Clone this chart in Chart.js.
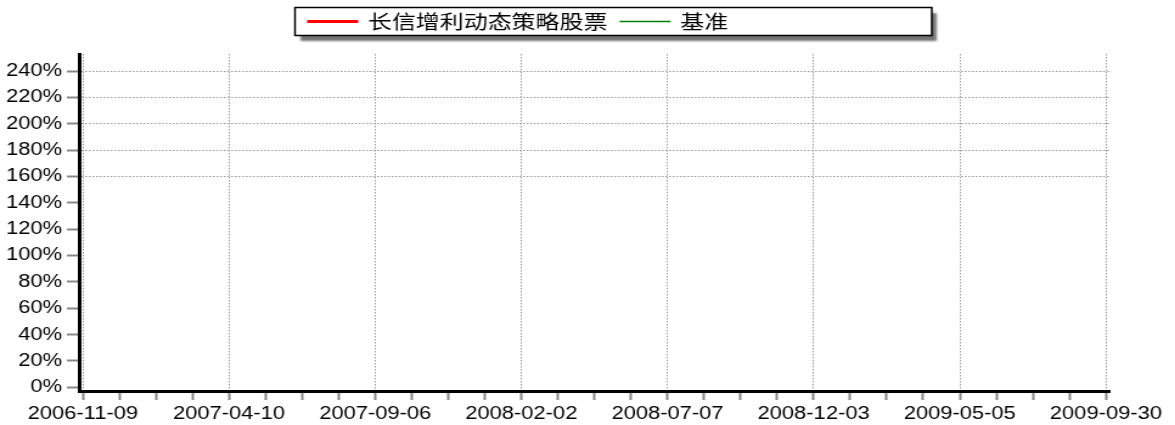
<!DOCTYPE html>
<html>
<head>
<meta charset="utf-8">
<script src="https://cdn.jsdelivr.net/npm/chart.js@4.4.1/dist/chart.umd.min.js"></script>
<style>
  html, body { margin: 0; padding: 0; background: #fff; overflow: hidden; }
  #wrap { width: 1175px; height: 425px; }
  /* the source image is stretched sideways, so draw narrow and scale */
  #chart { transform: scaleX(1.2164); transform-origin: 0 0; }
</style>
</head>
<body>
<div id="wrap"><canvas id="chart" width="966" height="425"></canvas></div>
<script>
// tick labels along the bottom, one every 100 trading days
const dateLabels = ['2006-11-09', '2007-04-10', '2007-09-06', '2008-02-02',
                    '2008-07-07', '2008-12-03', '2009-05-05', '2009-09-30'];
const seriesNames = ['长信增利动态策略股票', '基准'];
// no points are plotted in the picture
const fundValues = [];
const benchValues = [];
const yTicks = [0, 20, 40, 60, 80, 100, 120, 140, 160, 180, 200, 220, 240];
const xTicks = [0, 25, 50, 75, 100, 125, 150, 175, 200, 225, 250, 275, 300, 325,
                350, 375, 400, 425, 450, 475, 500, 525, 550, 575, 600, 625, 650, 675, 700];

const legendBox = {
  id: 'legendBox',
  afterDraw(chart) {
    const ctx = chart.ctx;
    const x = 242.5, y = 7.5, w = 523.5, h = 28;
    ctx.save();
    ctx.shadowColor = 'rgba(0,0,0,0.55)';
    ctx.shadowOffsetX = 4;
    ctx.shadowOffsetY = 5;
    ctx.shadowBlur = 2;
    ctx.fillStyle = '#fff';
    ctx.fillRect(x, y, w, h);
    ctx.restore();

    ctx.save();
    ctx.strokeStyle = '#000';
    ctx.lineWidth = 1.5;
    ctx.strokeRect(x, y, w, h);
    ctx.font = '19.7px "Noto Sans CJK SC"';
    ctx.textBaseline = 'middle';
    let cx = x + 10;
    const cy = y + h / 2;
    chart.data.datasets.forEach(function (ds) {
      ctx.strokeStyle = ds.borderColor;
      ctx.lineWidth = ds.borderWidth;
      ctx.beginPath();
      ctx.moveTo(cx, cy);
      ctx.lineTo(cx + 42, cy);
      ctx.stroke();
      cx += 50;
      ctx.fillStyle = '#000';
      ctx.fillText(ds.label, cx, cy);
      cx += ctx.measureText(ds.label).width + 10;
    });
    ctx.restore();
  }
};

const tickFont = { family: 'Liberation Sans', size: 18 };

new Chart(document.getElementById('chart').getContext('2d'), {
  type: 'line',
  data: {
    datasets: [{
      label: seriesNames[0],
      data: fundValues.map((v, i) => ({ x: i, y: v })),
      borderColor: '#ff0000',
      borderWidth: 3,
      pointRadius: 0
    }, {
      label: seriesNames[1],
      data: benchValues.map((v, i) => ({ x: i, y: v })),
      borderColor: '#008000',
      borderWidth: 1.5,
      pointRadius: 0
    }]
  },
  options: {
    responsive: false,
    animation: false,
    devicePixelRatio: 1,
    layout: { padding: { top: 54, right: 53.5, left: 0, bottom: 0 } },
    plugins: { legend: { display: false }, tooltip: { enabled: false } },
    scales: {
      x: {
        type: 'linear',
        min: -2.66,
        max: 702.8,
        afterBuildTicks: function (s) { s.ticks = xTicks.map(v => ({ value: v })); },
        afterFit: function (s) { s.height = 34; },
        grid: {
          color: c => (c.tick && c.tick.value % 100 === 0) ? '#999' : 'rgba(0,0,0,0)',
          lineWidth: 1,
          tickColor: '#888',
          tickWidth: 2,
          tickLength: 9
        },
        border: { color: '#000', width: 3, dash: [1.5, 1.5] },
        ticks: {
          autoSkip: false,
          maxRotation: 0,
          minRotation: 0,
          padding: 3,
          color: '#000',
          font: tickFont,
          callback: v => v % 100 === 0 ? dateLabels[v / 100] : ''
        }
      },
      y: {
        min: -2.8,
        max: 252.9,
        afterBuildTicks: function (s) { s.ticks = yTicks.map(v => ({ value: v })); },
        afterFit: function (s) { s.width = 65; },
        grid: {
          color: c => (c.tick && c.tick.value >= 160) ? '#999' : 'rgba(0,0,0,0)',
          lineWidth: 1,
          tickColor: '#888',
          tickWidth: 2,
          tickLength: 10
        },
        border: { color: '#000', width: 3, dash: [1.5, 1.5] },
        ticks: {
          padding: 4,
          color: '#000',
          font: tickFont,
          callback: v => v + '%'
        }
      }
    }
  },
  plugins: [legendBox]
});
</script>
</body>
</html>
